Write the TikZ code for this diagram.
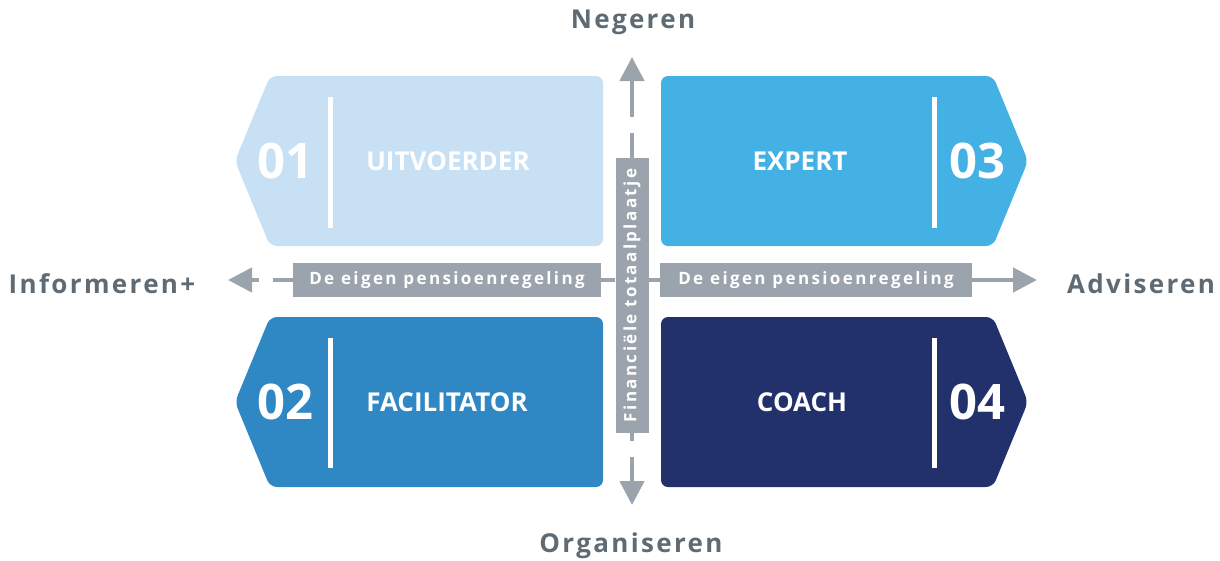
\documentclass[tikz,border=0pt]{standalone}
\usepackage{fontspec}
\setmainfont{Open Sans}
\newfontfamily\asfont[LetterSpace=9]{Open Sans}
\newfontfamily\balkfont[LetterSpace=14]{Open Sans}
\usetikzlibrary{arrows.meta}
\definecolor{uitvoerder}{HTML}{C8E0F3}
\definecolor{facilitator}{HTML}{2F87C3}
\definecolor{expert}{HTML}{44B1E5}
\definecolor{coach}{HTML}{22316C}
\definecolor{grijs}{HTML}{9BA4AC}
\definecolor{astekst}{HTML}{5F6B74}
\begin{document}
\begin{tikzpicture}[x=1pt,y=-1pt,
    kaart/.style={rounded corners=7pt},
    streep/.style={white,line width=5pt},
    nummer/.style={white,font=\bfseries\fontsize{49}{49}\selectfont},
    rol/.style={white,font=\bfseries\fontsize{26}{26}\selectfont},
    grijsbox/.style={fill=grijs,text=white,inner sep=0pt,font=\balkfont\bfseries\fontsize{17}{17}\selectfont},
    as/.style={draw=grijs,line width=4.5pt},
    pijl/.style={as,-{Triangle[length=24pt,width=24pt]}},
    aslabel/.style={text=astekst,anchor=base,font=\asfont\bfseries\fontsize{26}{26}\selectfont}]
    \useasboundingbox (0,0) rectangle (1220,560);
    \fill[uitvoerder,kaart] (603,76) -- (270,76) -- (235,161) -- (270,246) -- (603,246) -- cycle; %Kaart links boven
    \fill[expert,kaart] (661,76) -- (993,76) -- (1028,161) -- (993,246) -- (661,246) -- cycle; %Kaart rechts boven
    \fill[facilitator,kaart] (603,317) -- (270,317) -- (235,402) -- (270,487) -- (603,487) -- cycle; %Kaart links onder
    \fill[coach,kaart] (661,317) -- (993,317) -- (1028,402) -- (993,487) -- (661,487) -- cycle; %Kaart rechts onder
    \draw[streep] (330,97) -- (330,228);
    \draw[streep] (934,97) -- (934,228);
    \draw[streep] (330,338) -- (330,468);
    \draw[streep] (934,338) -- (934,468);
    \node[nummer] (n01) at (285,161) {01};
    \node[rol] (uitv) at (448,161) {UITVOERDER};
    \node[nummer] (n03) at (977,161) {03};
    \node[rol] (expert) at (800,161) {EXPERT};
    \node[nummer] (n02) at (285,402) {02};
    \node[rol] (facil) at (447,402) {FACILITATOR};
    \node[nummer] (n04) at (977,402) {04};
    \node[rol] (coach) at (802,402) {COACH};
    \node[grijsbox,rotate=90,minimum width=275pt,minimum height=33pt] (totaal) at (632,295.5) {Financiële totaalplaatje}; %Balk midden
    \node[grijsbox,minimum width=308pt,minimum height=34pt] (regelingL) at (447,280) {De eigen pensioenregeling};
    \node[grijsbox,minimum width=312pt,minimum height=34pt] (regelingR) at (816,280) {De eigen pensioenregeling};
    \coordinate (linksA) at (273,280);
    \coordinate (linksB) at (259,280);
    \coordinate (links) at (228,280);
    \coordinate (rechts) at (1037,280);
    \coordinate (bovenA) at (632,133);
    \coordinate (bovenB) at (632,117);
    \coordinate (boven) at (632,57);
    \coordinate (onderA) at (632,441);
    \coordinate (onderB) at (632,457);
    \coordinate (onder) at (632,505);
    \draw[as] (regelingL.east) -- (regelingL.east -| totaal.north);
    \draw[as] (regelingR.west) -- (regelingR.west -| totaal.south);
    \draw[as] (regelingL.west) -- (linksA);
    \draw[pijl] (linksB) -- (links);
    \draw[pijl] (regelingR.east) -- (rechts);
    \draw[as] (totaal.east) -- (bovenA);
    \draw[pijl] (bovenB) -- (boven);
    \draw[as] (totaal.west) -- (onderA);
    \draw[pijl] (onderB) -- (onder);
    \node[aslabel] (negeren) at (633,28) {Negeren};
    \node[aslabel] (organiseren) at (631,552) {Organiseren};
    \node[aslabel] (informeren) at (102,293) {Informeren+};
    \node[aslabel] (adviseren) at (1141,293) {Adviseren};
\end{tikzpicture}
\end{document}
